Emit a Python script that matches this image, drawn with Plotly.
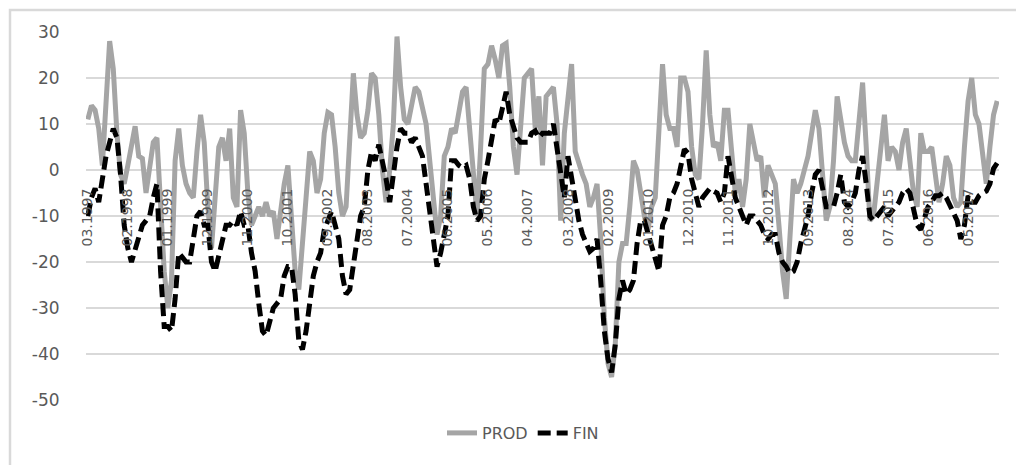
import plotly.graph_objects as go
import pandas as pd

# monthly categories 03.1997 .. 01.2018
months = pd.date_range("1997-03-01", periods=251, freq="MS").strftime("%m.%Y").tolist()

prod = [
    11, 14, 13, 9, 1, 15, 28, 22, 8, -1, -3,
    1, 6, 9.5, 3, 2.5, -5, 1, 6, 7, -8, -22,
    -30, -24, 2, 9, 1, -3, -5, -6, 4, 12, 6,
    -8, -17, -6, 5, 7, 2, 9, -6, -8, 13, 8,
    -5, -12, -10, -8, -10, -7, -10, -9, -15, -8, -3,
    1, -10, -22, -26, -14, -6, 4, 2, -5, -2, 8,
    12.5, 12, 5, -5, -10, -8, 5, 21, 12, 7, 8,
    13, 21, 20, 12, 0, -7, 0, 10, 29, 18, 11,
    10, 14, 18, 17, 14, 10, 2, -6, -14, -10, 3,
    5, 9, 8, 12, 17, 18, 8, 0, -10, 5, 22,
    23, 27, 24, 20, 27, 27.5, 18, 5, -1, 8, 20,
    21, 22, 9, 16, 1, 16, 17, 18, 10, -11, 8,
    15, 23, 4, 1, -1, -3, -8, -6, -3, -15, -32,
    -42, -45, -38, -20, -16, -16, -8, 2, 0, -5, -10,
    -13, -8, -6, 10, 23, 12, 9, 9, 5, 20, 20,
    17, 5, -1, -2, 10, 26, 12, 5, 6, 2, 13,
    13, 4, -5, -2, -8, -2, 10, 6, 2, 3, -6,
    1, -1, -3, -12, -22, -28, -14, -2, -5, -3, 0,
    3, 8, 13, 9, 0, -11, -8, 2, 16, 10, 6,
    3, 2, 2, 10, 19, 5, -11, -10, -2, 6, 12,
    2, 5, 4, 0, 6, 9, 2, -5, -8, 8, 4,
    4, 5, -2, -7, -3, 3, 1, -6, -8, -7, 5,
    15, 20, 12, 10, 3, -3, 5, 12, 15,
]

fin = [
    -10, -6, -4, -7, -2, 3, 6, 9, 7, -1, -12,
    -17, -20, -17, -14, -12, -11, -10, -6, -3, -22, -34,
    -34, -35, -28, -18, -19, -20, -20, -14, -10, -9, -12,
    -12, -20, -22, -19, -15, -12, -12, -11, -12, -9, -12,
    -12, -18, -22, -29, -35, -36, -33, -30, -29, -28, -23,
    -21, -21, -27, -37, -39, -35, -28, -23, -20, -18, -13,
    -11, -9, -12, -15, -23, -27, -26, -20, -14, -10, -8,
    0, 4, 2, 5.5, 2, -2, -7, 0, 5, 9, 8,
    8, 6, 7, 5, 3, -3, -9, -13, -21, -18, -14,
    -10, 2, 2, 1, 0.5, 1, -2, -8, -11, -10, -2,
    2, 7, 11, 10, 14, 17, 12, 9, 7, 6, 6,
    6, 8, 8.5, 7, 8, 8, 8, 10, 5, -1, -6,
    3, -2, -6, -11, -14, -16, -17.7, -17, -15, -24, -35,
    -41, -44, -38, -28, -24, -27, -26, -24, -16, -11, -11,
    -14, -17, -20, -22, -12, -10, -6, -5, -3, 1, 4.5,
    3.6, -2, -5, -8, -6, -5, -4, -4.6, -5, -7, -5,
    3, -1, -6, -8, -10, -12, -10, -10, -11, -12, -14,
    -15, -14, -14, -18, -20, -21, -22.5, -22, -20, -16, -13,
    -10, -5, -1, 0, -4, -8, -8, -8, -5, -1, -7,
    -8, -7, -5, 0, 3, -3, -10, -11, -10, -9, -8,
    -10, -9, -8, -7, -5, -4, -5, -8, -12, -13, -10,
    -8, -7, -5.6, -5.6, -5, -6, -7.6, -9, -11, -15, -12,
    -5.6, -7, -7, -5.6, -5, -4.6, -3, 0.3, 1.5,
]

tick_labels = [
    "03.1997", "02.1998", "01.1999", "12.1999", "11.2000", "10.2001",
    "09.2002", "08.2003", "07.2004", "06.2005", "05.2006", "04.2007",
    "03.2008", "02.2009", "01.2010", "12.2010", "11.2011", "10.2012",
    "09.2013", "08.2014", "07.2015", "06.2016", "05.2017",
]
y_ticks = [30, 20, 10, 0, -10, -20, -30, -40, -50]
y_tick_text = ["30", "20", "10", "0", "-10", "-20", "-30", "-40", "-50"]

# category index of each month and of each labelled month
x_idx = list(range(len(months)))
tick_idx = [months.index(lab) for lab in tick_labels]

Y_MIN, Y_MAX = -50.2, 30.2

W, H = 1024, 465
L, R, T, B = 78, 33, 23, 72
pw, ph = W - L - R, H - T - B

GRID = "#D9D9D9"
TXT = "#595959"
FONT = "DejaVu Sans"

fig = go.Figure()
fig.add_trace(go.Scatter(
    x=x_idx, y=prod, name="PROD", mode="lines",
    line=dict(color="#A5A5A5", width=5),
))
fig.add_trace(go.Scatter(
    x=x_idx, y=fin, name="FIN", mode="lines",
    line=dict(color="#000000", width=5, dash="13px,6px"),
))

fig.update_layout(
    width=W, height=H,
    margin=dict(l=L, r=R, t=T, b=B),
    paper_bgcolor="white", plot_bgcolor="white",
    font=dict(family=FONT, color=TXT),
    showlegend=True,
    legend=dict(
        orientation="h", x=(515 - L) / pw, xanchor="center",
        y=-(425 - (T + ph)) / ph, yanchor="middle",
        font=dict(family=FONT, size=16, color=TXT),
    ),
    xaxis=dict(
        range=[-0.5, len(months) - 0.5],
        anchor="free", position=(0 - Y_MIN) / (Y_MAX - Y_MIN),
        showgrid=False, zeroline=False, showline=False,
        ticks="outside", ticklen=12, tickcolor="rgba(255,255,255,0)",
        tickmode="array", tickvals=tick_idx, ticktext=tick_labels,
        tickangle=-90,
        tickfont=dict(family=FONT, size=14, color=TXT),
    ),
    yaxis=dict(
        range=[Y_MIN, Y_MAX],
        tickmode="array", tickvals=y_ticks, ticktext=y_tick_text,
        showgrid=True, gridcolor=GRID, gridwidth=1.5,
        zeroline=True, zerolinecolor=GRID, zerolinewidth=1.5,
        showline=False,
        ticks="outside", ticklen=22, tickcolor="rgba(255,255,255,0)",
        tickfont=dict(family=FONT, size=17, color=TXT),
    ),
)

# outer chart frame
fig.add_shape(
    type="rect", xref="paper", yref="paper",
    x0=(2 - L) / pw, x1=(1021 - L) / pw,
    y0=((T + ph) - 463) / ph, y1=((T + ph) - 2) / ph,
    line=dict(color=GRID, width=2.5), fillcolor="rgba(0,0,0,0)", layer="below",
)

fig.write_html("out.html")
